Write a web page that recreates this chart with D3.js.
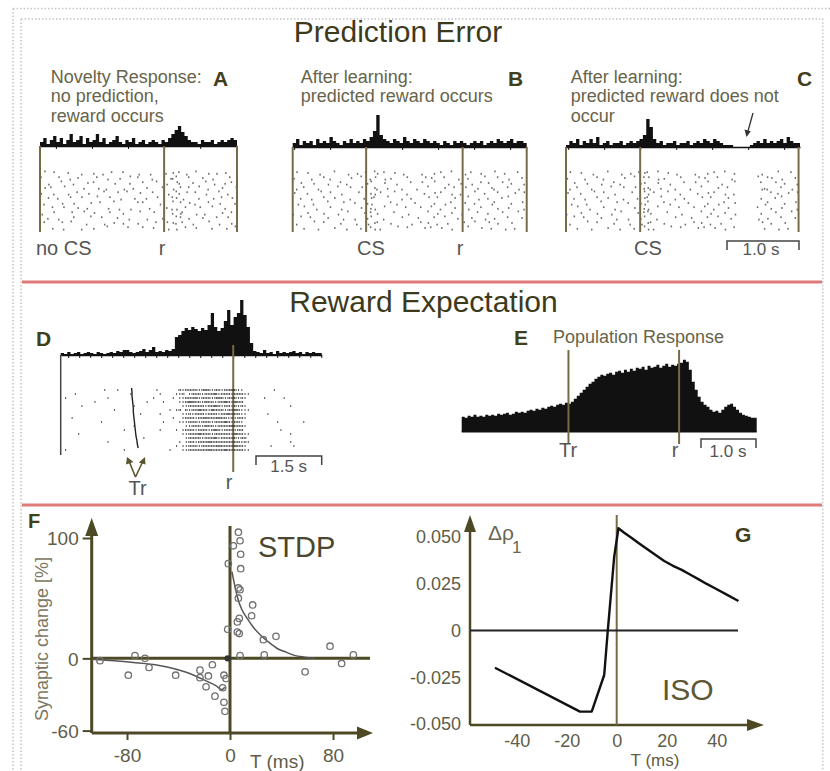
<!DOCTYPE html>
<html>
<head>
<meta charset="utf-8">
<script src="https://cdn.jsdelivr.net/npm/d3@7"></script>
<style>
  body { margin: 0; background: #fff; }
  svg text { font-family: "Liberation Sans", Arial, Helvetica, sans-serif; }
</style>
</head>
<body>
<svg id="fig" width="830" height="771"></svg>
<script>
// ---------- data ----------
// PSTH bin counts (arbitrary units) for panels A, B, C
const histA = [2,4,1,3,5,2,4,1,3,6, 2,3,5,1,4,2,3,6,2,4, 1,2,3,5,2,1,3,2,4,1,
               2,3,1,2,3,2,1,3,2,4, 6,8,10,7,5,3,2,2,1,3, 2,2,3,1,2,3,2,3,4,3];
const histB = [2,4,1,3,2,3,1,4,2,3, 2,5,3,2,1,3,2,4,2,3, 2,4,3,5,8,16,6,4,3,2,
               4,3,2,5,3,2,4,3,2,4, 3,2,3,2,1,3,2,1,3,2, 3,2,1,2,3,2,3,1,2,3, 2,4,3,2,3,4,2,3,3,2];
const histC = [1,3,2,4,1,3,2,4,2,5, 1,2,3,1,2,2,3,1,2,3, 2,3,4,6,14,10,4,2,3,1,
               2,2,3,1,2,2,3,1,2,3, 2,4,3,2,4,3,2,1,1,1, 0,0,0,0,0,1,2,3,2,4, 2,3,2,3,4,2,5,3,2,2];

// raster rows: one char per bin, 0 = no spike, 1-9 = spike position inside the bin (tenths)
const rasterA = [
  '0500300060 0070004002 0800030000 2007000040 6030700500 0409006000',
  '3000080002 0600000300 7000400508 0000200009 4500030006 0070000800',
  '0070005000 2000603000 0090000400 0300050070 0840006000 5002004030',
  '0603000500 0004000900 2000070040 0060000300 7080030050 0200060008',
  '4000200070 0300900005 0008005000 6000300002 0540800300 7000500200',
  '0060040003 0080000500 0300700090 0040080000 3607000040 0090030060',
  '0200009000 4000060030 0050000008 0300007000 5080060200 0300900004',
  '0008000300 0600400000 9000200700 0004000060 2700300080 0050004000',
  '7000300008 0005006000 0300040000 5000800000 4093000700 2000060030',
  '0040070000 3000050080 0006000200 0070000400 0580040006 0008000300',
  '0300008005 0000200007 0060040009 0000030080 6403007000 0500700040',
  '0009000200 0070004000 5000008000 0300600002 0700300600 0040009005'
];
const rasterB = [
  '0300600020 0050007004 0800540300 6002000070 0040300500 0703004000 5004000300',
  '4000070003 0200000600 5002800704 0000300008 0600030007 0040000500 0300700060',
  '0060004000 7000302000 0045000600 0200030080 0050007000 4007003060 0080040002',
  '0203000700 0005000300 8000620040 0070000200 5000060030 0800040006 2000300700',
  '6000400050 0300700008 0004703000 5000200004 0060300700 2000500400 0300006003',
  '0040070003 0060000200 0406300050 0070040000 8003000060 0050070040 0060500000',
  '0700002000 5000030060 0047000003 0200006000 0040070300 0600400007 3000040080',
  '0005000200 0300700000 6004700500 0008000030 0500200060 0070003000 0400600002',
  '2000600004 0007005000 0603040000 3000700000 5004000600 7000030040 0080000500',
  '0050030000 6000020070 0045000200 0080000600 0030050004 0006000700 4000300060',
  '0200005003 0000400002 0070630004 0000070030 6002004000 0300500080 0400060000',
  '0004000700 0060002000 4003702000 0500300006 0300600700 0050006004 0007004000'
];
const rasterC = [
  '0300600020 0050007004 0806300500 6002000070 0040300500 4000000070 0005000300',
  '4000070003 0200000600 5003800704 0000300008 0600030007 0000000500 3600700060',
  '0060004000 7000302000 0046000600 0200030080 0050007000 5000000030 0080040002',
  '0203000700 0005000300 8004620040 0070000200 5000060030 0000000074 2000300700',
  '6000400050 0300700008 0005703000 5000200004 0060300700 2000000000 0304006003',
  '0040070003 0060000200 0406300050 0070040000 8003000060 0000000040 0060500000',
  '0700002000 5000030060 0047500003 0200006000 0040070300 6000000007 3000040080',
  '0005000200 0300700000 6004700500 0008000030 0500200060 0000000300 0400600002',
  '2000600004 0007005000 0603540000 3000700000 5004000600 7000000040 0080000500',
  '0050030000 6000020070 0045000200 0080000600 0030050004 0000000700 4000300060',
  '0200005003 0000400002 0070630004 0000070030 6002004000 0000000080 0400060000',
  '0004000700 0060002000 4005702000 0500300006 0300600700 3000000004 0007004000'
];

// panel D: PSTH, raster (digit = spikes per bin), trigger time per trial (s, r = 0)
const histD = [2,1,3,1,2,3,1,2,3,2, 1,3,2,1,2,3,2,4,3,5, 5,3,2,3,4,6,3,5,8,3,
               4,3,5,4,6,18,20,24,27,25, 28,26,24,27,25,30,42,28,24,27,
               34,45,30,38,42,55,40,28,12,4, 3,2,5,2,3,1,4,2,3,2, 3,4,2,3,1,3,2,3,2,2];
const rasterD = [
  '0000000000 0001000100 0000000001 0000002122 2212321221 2232110000 0000010000 0000000000',
  '0000100000 0000000000 0100000000 1000011201 2221222312 2212221100 0000000000 0000000000',
  '0100000000 0000100000 0000000010 0000101122 2312221232 1222121000 0010000010 0000000000',
  '0000000000 1000000000 0000001000 0100001123 3221322122 3213220000 0000000000 0000000000',
  '0000001000 0000000000 0010000000 0000000112 2222122321 2212121000 0000000000 1000000000',
  '0000000000 0000001000 0000000000 0001012021 2232213222 1223211100 0000000000 0000000000',
  '0000000000 0000000000 0000100000 1000000112 1222122212 2322211000 0001000000 0000000000',
  '0001000000 0000000000 0000000000 0000100122 2122322232 2121221000 0000000000 0000000000',
  '0000000000 0010000000 0000000000 0100001112 2212221222 3212210000 0000001000 0000100000',
  '0000000000 0000000000 0010000000 0000000011 2221322122 2232221000 0000000000 0000000000',
  '0000000000 0000000001 0000000000 1000010122 2122212321 2221220000 0000000100 0000000000',
  '0000010000 0000000000 0000000000 0000000112 2232221222 2213221100 0000000000 1000000000',
  '0000000000 0000000000 0000010000 0000000012 2221222312 2222122000 0000000000 0000000000',
  '0000000000 0000100000 0000000000 0000001012 2122232222 2222212100 0000000000 1000000000',
  '0000000000 0000000000 0000000000 0000010112 2212222232 2223221000 0000100000 0100000000',
  '0100000000 0000000001 0000000000 0001000112 2222232222 3222221100 0000000000 0000000000'
];
const trialTrD = [-2.31,-2.30,-2.30,-2.29,-2.28,-2.27,-2.27,-2.26,-2.25,-2.24,-2.23,-2.22,-2.21,-2.19,-2.18,-2.16];

// panel E: population PSTH
const histE = [15,14,16,15,17,15,16,15,17,16, 17,16,18,17,18,19,17,18,20,19,
               20,19,21,22,21,23,22,24,23,25, 26,25,27,28,27,29,28,30,33,36,
               39,42,45,48,50,53,55,57,56,58, 59,57,60,61,59,62,60,63,61,64,
               63,65,62,66,64,65,67,64,66,68, 65,67,66,68,69,72,70,62,50,42,
               35,30,27,25,22,20,21,19,22,25, 27,28,25,22,19,17,16,15,14,14];

// panel F: STDP measurements (T in ms, synaptic change in %)
const stdpT = [6.5,7.8,2.6,8.3,-1.3,8.3,6.5,7.8,6.5,17.6,16.8,7.2,5.7,-1.8,5.7,7.2,25.9,35.7,7.8,26.6,77.7,95.8,86.7,58.3,
               -101,-73.8,-79,-66,-62.9,-42.2,-23.3,-13.7,-23.3,-16.8,-18.6,-11.7,-4.7,-3.9,-4.7,-3.1,-5.7];
const stdpV = [104.8,97.7,93.5,86.5,78.7,74.5,58.5,57,50,44.4,35.4,33.2,30.3,24.2,21.9,20.6,15.5,18.3,2.3,2.9,10.1,2.9,-4.2,-11.2,
               -1.9,2.3,-14,0,-7.6,-14,-9.8,-5.3,-16,-14.6,-23.6,-31.4,-36.5,-44,-14,-16.8,-24.4];
const stdpFilledT = [-1.8];
const stdpFilledV = [0];
const fitPosT = [1.5,3,6,9,13.5,18,24,30,37,44,50,58,66];
const fitPosV = [72,64,50,41,33,26,19,13.5,8,5,2.5,1,0];
const fitNegT = [-106,-90,-75,-55,-34,-19,-11,-6.3,-4];
const fitNegV = [-1,-2,-3.4,-5.9,-11.5,-18.5,-22.7,-26,-24];

// panel G: ISO learning weight change
const isoT = [-48.7,-14.7,-10,-5,-3.6,-1,0.7,3,6,9,12.7,16,19,22.5,26,29.5,33,36,39.3,44,48.7];
const isoV = [-0.0199,-0.0434,-0.0434,-0.0238,-0.0006,0.0395,0.0547,0.0523,0.0495,0.0465,0.043,0.04,0.0372,
              0.0346,0.0324,0.0298,0.0272,0.0249,0.0226,0.0192,0.0158];

const stdpXTicks = [-80, 0, 80];
const stdpYTicks = [-60, 0, 100];
const isoXTicks = [-40, -20, 0, 20, 40];
const isoYTicks = [-0.05, -0.025, 0, 0.025, 0.05];
const isoYLabels = ['-0.050', '-0.025', '0', '0.025', '0.050'];

// ---------- drawing ----------
const svg = d3.select('#fig');
const titleCol = '#3d3a1c', capCol = '#67644a', letterCol = '#413e1b',
      markCol = '#756b48', axisCol = '#4d4925', tickCol = '#5f5c48';

function txt(x, y, s, o = {}) {
  return svg.append('text')
    .attr('x', x).attr('y', y).text(s)
    .attr('font-size', o.size || 18)
    .attr('fill', o.fill || capCol)
    .attr('font-weight', o.bold ? 'bold' : null)
    .attr('text-anchor', o.anchor || 'start');
}

function vline(x, y1, y2, col, w) {
  svg.append('line').attr('x1', x).attr('x2', x).attr('y1', y1).attr('y2', y2)
    .attr('stroke', col).attr('stroke-width', w);
}

// frame
const dots = { stroke: '#c4c4c4', 'stroke-width': 1.5, 'stroke-dasharray': '1.5,2', fill: 'none' };
function dotted(d) {
  const p = svg.append('path').attr('d', d);
  Object.entries(dots).forEach(([k, v]) => p.attr(k, v));
}
dotted('M13,8.5H830M13,8.5V771');
dotted('M21,19H822.7V771M21,19V771');

// red separators
[282, 505].forEach(y => svg.append('line').attr('x1', 22).attr('x2', 822).attr('y1', y).attr('y2', y)
  .attr('stroke', '#df7a7a').attr('stroke-width', 3.2));

txt(398, 42, 'Prediction Error', { size: 30, fill: titleCol, anchor: 'middle' });
txt(423.5, 312, 'Reward Expectation', { size: 30, fill: titleCol, anchor: 'middle' });

// histogram helper
function histogram(hist, x, t0, t1, base, yScale) {
  const bw = (t1 - t0) / hist.length;
  const pts = hist.map((v, i) => ({ t: t0 + i * bw, v }));
  pts.push({ t: t1, v: hist[hist.length - 1] });
  svg.append('path').datum(pts)
    .attr('d', d3.area().curve(d3.curveStepAfter).x(d => x(d.t)).y0(base).y1(d => yScale(d.v)))
    .attr('fill', '#111');
}

function baseAxis(x, base, step) {
  const [a, b] = x.domain();
  const g = svg.append('g').attr('transform', `translate(0,${base})`)
    .call(d3.axisBottom(x).tickValues(d3.range(Math.ceil(a / step) * step, b, step))
      .tickSize(3).tickSizeOuter(0).tickFormat(''));
  g.select('.domain').attr('stroke', '#111').attr('stroke-width', 1.5);
  g.selectAll('line').attr('stroke', '#111');
}

function raster(rows, x, t0, t1, yTop, step, mode, fill, w, h) {
  rows.forEach((row, r) => {
    const s = row.replace(/ /g, '');
    const bw = (t1 - t0) / s.length;
    const spikes = [];
    for (let i = 0; i < s.length; i++) {
      const d = +s[i];
      if (!d) continue;
      if (mode === 'pos') spikes.push({ t: t0 + (i + d / 10) * bw, dy: ((d * 7) % 5 - 2) * 0.8 });
      else for (let k = 0; k < d; k++) spikes.push({ t: t0 + (i + (k + 0.5) / d) * bw, dy: 0 });
    }
    svg.append('g').selectAll('rect').data(spikes).join('rect')
      .attr('x', d => x(d.t) - w / 2)
      .attr('y', d => yTop + r * step + d.dy - h / 2)
      .attr('width', w).attr('height', h).attr('fill', fill);
  });
}

// ---------- panels A, B, C ----------
const psth = [
  { hist: histA, rows: rasterA, domain: [-1.72, 1.01], range: [40, 237], base: 146, marks: [-1.72, 0, 1.01],
    caption: ['Novelty Response:', 'no prediction,', 'reward occurs'], capX: 50.7, letter: 'A', letX: 213,
    labels: [['no CS', 36, 'start'], ['r', 162, 'middle']] },
  { hist: histB, rows: rasterB, domain: [-1.02, 2.23], range: [292.7, 526.7], base: 147, marks: [-1.02, 0, 1.34, 2.23],
    caption: ['After learning:', 'predicted reward occurs'], capX: 300.7, letter: 'B', letX: 508,
    labels: [['CS', 371, 'middle'], ['r', 460, 'middle']] },
  { hist: histC, rows: rasterC, domain: [-1.03, 2.22], range: [566, 800], base: 147, marks: [-1.03, 0, 2.2],
    caption: ['After learning:', 'predicted reward does not', 'occur'], capX: 570.7, letter: 'C', letX: 797,
    labels: [['CS', 648, 'middle']] }
];

psth.forEach(p => {
  const x = d3.scaleLinear().domain(p.domain).range(p.range);
  const y = d3.scaleLinear().domain([0, 10]).range([p.base, p.base - 20]);
  histogram(p.hist, x, p.domain[0], p.domain[1], p.base, y);
  baseAxis(x, p.base, 0.5);
  p.marks.forEach(t => vline(x(t), p.base, 232, markCol, 2));
  raster(p.rows, x, p.domain[0], p.domain[1], 173, 5, 'pos', '#6c6c6c', 1.5, 1.8);
  p.caption.forEach((c, i) => txt(p.capX, 82.5 + i * 19.5, c));
  txt(p.letX, 86, p.letter, { size: 21, bold: true, fill: letterCol });
  p.labels.forEach(([s, lx, a]) => txt(lx, 255, s, { size: 20, fill: '#555', anchor: a }));
});

// arrow at omitted reward (C)
svg.append('line').attr('x1', 753).attr('y1', 113).attr('x2', 748).attr('y2', 131)
  .attr('stroke', '#333').attr('stroke-width', 1.3);
svg.append('path').attr('d', 'M746.5,137L744.5,129.5L750.8,131.2Z').attr('fill', '#333');

// scale bar C
svg.append('path').attr('d', 'M727,250V241H799V250').attr('fill', 'none').attr('stroke', '#444').attr('stroke-width', 1.5);
txt(761, 255, '1.0 s', { size: 17, fill: '#555', anchor: 'middle' });

// ---------- panel D ----------
{
  const x = d3.scaleLinear().domain([-3.92, 2.01]).range([60.7, 321.7]);
  const base = 355;
  const y = d3.scaleLinear().domain([0, 55]).range([base, base - 55]);
  histogram(histD, x, -3.92, 2.01, base, y);
  baseAxis(x, base, 0.25);
  vline(x(-3.92), base, 455, '#444', 1.5);
  vline(x(0), 345, 472, markCol, 2);
  raster(rasterD, x, -3.92, 2.01, 390, 4, 'count', '#1a1a1a', 1.1, 1.4);
  svg.append('path')
    .datum(trialTrD.map((t, i) => [x(t), 388 + i * 4]))
    .attr('d', d3.line())
    .attr('fill', 'none').attr('stroke', '#222').attr('stroke-width', 1.4);
  // Tr arrows
  svg.append('path').attr('d', 'M135.5,477L129,461M135.5,477L143,461')
    .attr('fill', 'none').attr('stroke', '#5a5630').attr('stroke-width', 1.6);
  svg.append('path').attr('d', 'M127,457L133.5,462L126,464.5ZM145,457L145.5,464.5L138.8,462.5Z').attr('fill', '#5a5630');
  txt(137.5, 495, 'Tr', { size: 20, fill: '#555', anchor: 'middle' });
  txt(229, 489, 'r', { size: 20, fill: '#555', anchor: 'middle' });
  txt(36, 346, 'D', { size: 21, bold: true, fill: letterCol });
  svg.append('path').attr('d', 'M256,465V456H321.7V465').attr('fill', 'none').attr('stroke', '#444').attr('stroke-width', 1.5);
  txt(288.7, 472, '1.5 s', { size: 17, fill: '#555', anchor: 'middle' });
}

// ---------- panel E ----------
{
  const x = d3.scaleLinear().domain([-3.95, 1.41]).range([461.7, 756.7]);
  const base = 431.7;
  const y = d3.scaleLinear().domain([0, 72]).range([base, base - 72]);
  histogram(histE, x, -3.95, 1.41, base, y);
  svg.append('line').attr('x1', 461.7).attr('x2', 756.7).attr('y1', base).attr('y2', base)
    .attr('stroke', '#111').attr('stroke-width', 1.5);
  vline(x(-2.01), 350, 444, markCol, 2);
  vline(x(0), 350, 444, markCol, 2);
  txt(568, 457, 'Tr', { size: 20, fill: '#555', anchor: 'middle' });
  txt(675, 457, 'r', { size: 20, fill: '#555', anchor: 'middle' });
  txt(514, 345, 'E', { size: 21, bold: true, fill: letterCol });
  txt(553, 343, 'Population Response', { size: 18 });
  svg.append('path').attr('d', 'M701,448V439H756V448').attr('fill', 'none').attr('stroke', '#444').attr('stroke-width', 1.5);
  txt(728, 457, '1.0 s', { size: 17, fill: '#555', anchor: 'middle' });
}

// ---------- panel F: STDP ----------
{
  const x = d3.scaleLinear().domain([-80, 80]).range([127, 333]);
  const y = d3.scaleLinear().domain([-62, 100]).range([733, 538]);
  const ax = 91.7, ay = y(-62);
  const gy = svg.append('g').attr('transform', `translate(${ax},0)`)
    .call(d3.axisLeft(y).tickValues(stdpYTicks).tickSize(9).tickPadding(4).tickFormat(d => String(d)));
  gy.select('.domain').remove();
  gy.selectAll('line').attr('stroke', axisCol).attr('stroke-width', 2);
  gy.selectAll('text').attr('fill', tickCol).attr('font-size', 19).attr('dy', '0.35em');
  gy.attr('font-family', null).attr('font-size', null);

  const gx = svg.append('g').attr('transform', `translate(0,${ay})`)
    .call(d3.axisBottom(x).tickValues(stdpXTicks).tickSize(7).tickFormat(d => String(d)));
  gx.select('.domain').remove();
  gx.selectAll('line').attr('stroke', axisCol).attr('stroke-width', 2);
  gx.selectAll('text').attr('fill', tickCol).attr('font-size', 19).attr('y', 28.5).attr('dy', null);
  gx.attr('font-family', null).attr('font-size', null);

  const axes = 'M' + ax + ',' + ay + 'V534M' + ax + ',' + ay + 'H358'
    + 'M' + ax + ',' + y(0) + 'H370M' + x(0) + ',526V' + ay;
  svg.append('path').attr('d', axes).attr('stroke', axisCol).attr('stroke-width', 3).attr('fill', 'none');
  svg.append('path').attr('d', `M${ax},518L${ax - 6.5},536L${ax + 6.5},536ZM373,${ay}L357,${ay - 6.5}L357,${ay + 6.5}Z`)
    .attr('fill', axisCol);

  const line = d3.line().curve(d3.curveMonotoneX).x(d => x(d[0])).y(d => y(d[1]));
  svg.append('path').attr('d', line(d3.zip(fitPosT, fitPosV)))
    .attr('fill', 'none').attr('stroke', '#555').attr('stroke-width', 1.5);
  svg.append('path').attr('d', line(d3.zip(fitNegT, fitNegV)))
    .attr('fill', 'none').attr('stroke', '#555').attr('stroke-width', 1.5);

  svg.append('g').selectAll('circle').data(d3.zip(stdpT, stdpV)).join('circle')
    .attr('cx', d => x(d[0])).attr('cy', d => y(d[1])).attr('r', 3.2)
    .attr('fill', 'none').attr('stroke', '#707070').attr('stroke-width', 1.3);
  svg.append('g').selectAll('circle').data(d3.zip(stdpFilledT, stdpFilledV)).join('circle')
    .attr('cx', d => x(d[0])).attr('cy', d => y(d[1])).attr('r', 3.2).attr('fill', '#333');

  txt(258, 557, 'STDP', { size: 29, fill: '#4a4630' });
  txt(28, 528, 'F', { size: 20, bold: true, fill: letterCol });
  txt(250, 768, 'T (ms)', { size: 19, fill: tickCol });
  svg.append('text').attr('transform', 'translate(48,639) rotate(-90)')
    .attr('text-anchor', 'middle').attr('font-size', 18).attr('fill', '#7b7762')
    .text('Synaptic change [%]');
}

// ---------- panel G: ISO ----------
{
  const x = d3.scaleLinear().domain([-40, 40]).range([516.7, 716.7]);
  const y = d3.scaleLinear().domain([-0.05, 0.05]).range([724, 537]);
  const ax = 470, ay = 725;
  const gy = svg.append('g').attr('transform', `translate(${ax},0)`)
    .call(d3.axisLeft(y).tickValues(isoYTicks).tickSize(0).tickPadding(9).tickFormat((d, i) => isoYLabels[i]));
  gy.select('.domain').remove();
  gy.selectAll('text').attr('fill', tickCol).attr('font-size', 18);
  gy.attr('font-family', null).attr('font-size', null);

  const gx = svg.append('g').attr('transform', `translate(0,${ay})`)
    .call(d3.axisBottom(x).tickValues(isoXTicks).tickSize(0).tickFormat(d => String(d)));
  gx.select('.domain').remove();
  gx.selectAll('text').attr('fill', tickCol).attr('font-size', 18).attr('y', 22).attr('dy', null);
  gx.attr('font-family', null).attr('font-size', null);

  svg.append('path').attr('d', `M${ax},${ay}V530M${ax},${ay}H749`)
    .attr('stroke', axisCol).attr('stroke-width', 2.5).attr('fill', 'none');
  svg.append('path').attr('d', `M${ax},515L${ax - 6},532L${ax + 6},532ZM764,${ay}L747,${ay - 6}L747,${ay + 6}Z`)
    .attr('fill', axisCol);
  vline(x(0), 515, ay, markCol, 2);
  svg.append('line').attr('x1', ax).attr('x2', 738).attr('y1', y(0)).attr('y2', y(0))
    .attr('stroke', '#222').attr('stroke-width', 2);

  svg.append('path')
    .attr('d', d3.line().x(d => x(d[0])).y(d => y(d[1]))(d3.zip(isoT, isoV)))
    .attr('fill', 'none').attr('stroke', '#111').attr('stroke-width', 2.4).attr('stroke-linejoin', 'round');

  txt(488, 540, 'Δρ', { size: 21, fill: '#6a6652' });
  txt(512, 553, '1', { size: 17, fill: '#6a6652' });
  txt(662, 700, 'ISO', { size: 30, fill: '#5c5835' });
  txt(735, 542, 'G', { size: 21, bold: true, fill: letterCol });
  txt(655, 766, 'T (ms)', { size: 17, fill: tickCol, anchor: 'middle' });
}
</script>
</body>
</html>
